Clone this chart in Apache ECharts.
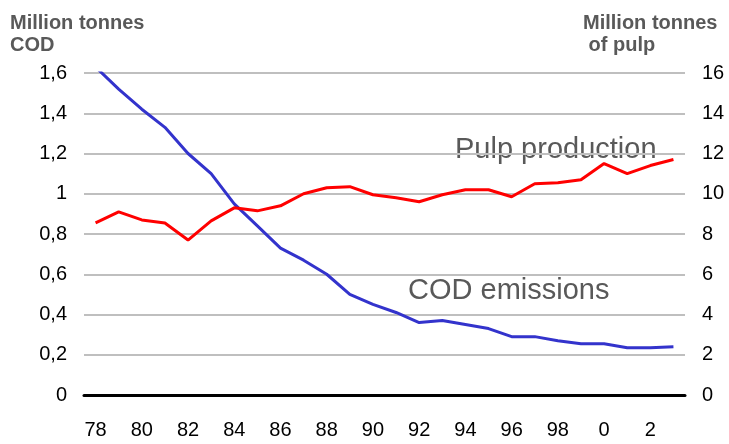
<!DOCTYPE html>
<html>
<head>
<meta charset="utf-8">
<script src="https://cdn.jsdelivr.net/npm/echarts@6/dist/echarts.min.js"></script>
<style>
  html, body { margin: 0; padding: 0; background: #fff; }
  #main { width: 729px; height: 444px; }
</style>
</head>
<body>
<div id="main"></div>
<script>
// years 1978 - 2003, shown as two-digit labels
var yearLabels = ['78','79','80','81','82','83','84','85','86','87','88','89','90','91','92','93','94','95','96','97','98','99','0','1','2','3'];

// COD emissions, million tonnes (left axis)
var codEmissions = [1.63, 1.52, 1.42, 1.33, 1.20, 1.10, 0.95, 0.84, 0.73, 0.67, 0.60, 0.50, 0.45, 0.41,
  0.36, 0.37, 0.35, 0.33, 0.29, 0.29, 0.27, 0.255, 0.255, 0.235, 0.235, 0.24];

// pulp production, million tonnes (right axis)
var pulpProduction = [8.55, 9.1, 8.7, 8.55, 7.7, 8.65, 9.3, 9.15, 9.4, 10.0, 10.3, 10.35, 9.95, 9.8,
  9.6, 9.95, 10.2, 10.2, 9.85, 10.5, 10.55, 10.7, 11.5, 11.0, 11.4, 11.7];

var leftTicks = { min: 0, max: 1.6, interval: 0.2 };
var rightTicks = { min: 0, max: 16, interval: 2 };

var myChart = echarts.init(document.getElementById('main'));

var fontFam = 'Liberation Sans, Arial, sans-serif';
var tickFont = { color: '#000', fontSize: 20, fontFamily: fontFam };

var option = {
  animation: false,
  grid: { left: 84, right: 44, top: 73, bottom: 49 },
  xAxis: {
    type: 'category',
    data: yearLabels,
    boundaryGap: true,
    axisLine: { show: true, onZero: false, lineStyle: { color: '#000', width: 3 } },
    axisTick: { show: false },
    axisLabel: Object.assign({ interval: 1, margin: 25 }, tickFont)
  },
  yAxis: [{
    type: 'value',
    min: leftTicks.min, max: leftTicks.max, interval: leftTicks.interval,
    axisLine: { show: false },
    axisTick: { show: false },
    axisLabel: Object.assign({
      margin: 17,
      formatter: function (v) { return String(+v.toFixed(1)).replace('.', ','); }
    }, tickFont),
    splitLine: { lineStyle: { color: '#bfbfbf', width: 2 } }
  }, {
    type: 'value',
    min: rightTicks.min, max: rightTicks.max, interval: rightTicks.interval,
    axisLine: { show: false },
    axisTick: { show: false },
    axisLabel: Object.assign({ margin: 17 }, tickFont),
    splitLine: { show: false }
  }],
  series: [{
    name: 'COD emissions',
    type: 'line',
    yAxisIndex: 0,
    data: codEmissions,
    symbol: 'none',
    lineStyle: { color: '#3333cc', width: 3 },
    z: 3
  }, {
    name: 'Pulp production',
    type: 'line',
    yAxisIndex: 1,
    data: pulpProduction,
    symbol: 'none',
    lineStyle: { color: '#ff0000', width: 3 },
    z: 4
  }],
  graphic: [{
    type: 'text', left: 10, top: 12,
    style: { text: 'Million tonnes\nCOD', fill: '#595959', font: 'bold 20px ' + fontFam, lineHeight: 22 }
  }, {
    type: 'text', left: 583, top: 12,
    style: { text: 'Million tonnes\n of pulp', fill: '#595959', font: 'bold 20px ' + fontFam, lineHeight: 22 }
  }, {
    type: 'text', left: 455, top: 135,
    style: { text: 'Pulp production', fill: '#595959', font: '29px ' + fontFam }
  }, {
    type: 'text', left: 408, top: 276,
    style: { text: 'COD emissions', fill: '#595959', font: '29px ' + fontFam }
  }]
};

myChart.setOption(option);
</script>
</body>
</html>
